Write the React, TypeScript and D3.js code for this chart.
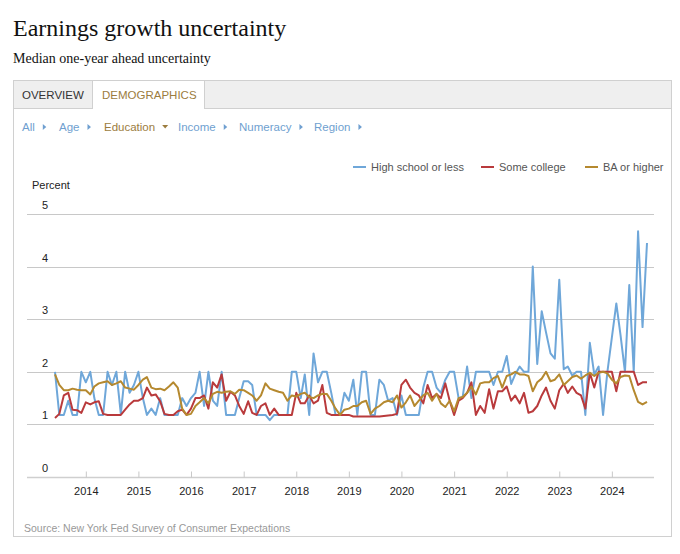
import React, { useRef, useEffect } from 'react';
import * as d3 from 'd3';

// monthly values, Jun 2013 .. Sep 2024
const START = new Date(2013, 5, 1);

const highSchool = [
    2.0, 1.18, 1.18, 1.45, 1.18, 1.18, 2.0,
    1.8, 2.0, 1.5, 1.18, 1.18, 2.0, 1.75, 2.0, 1.2, 2.0, 1.6, 1.75,
    2.0, 1.5, 1.18, 1.3, 1.18, 1.5, 1.18, 1.18, 1.18, 1.18, 1.5, 1.35,
    1.5, 1.6, 2.0, 1.35, 2.0, 1.45, 1.35, 2.0, 1.18, 1.18, 1.18, 1.5,
    1.82, 1.82, 1.75, 1.18, 1.18, 1.18, 1.08, 1.18, 1.18, 1.18, 1.18, 2.0,
    2.0, 1.5, 1.95, 1.18, 2.35, 1.8, 2.0, 2.0, 1.6, 1.18, 1.18, 1.6,
    1.45, 1.85, 1.18, 2.0, 2.0, 1.18, 1.18, 1.85, 1.75, 1.45, 1.5, 1.18,
    1.55, 1.18, 1.18, 1.18, 1.18, 1.7, 2.0, 2.0, 1.7, 1.6, 1.85, 2.0,
    2.0, 1.5, 1.52, 2.1, 1.5, 2.0, 2.0, 2.0, 2.0, 1.75, 2.0, 2.0,
    2.3, 1.77, 1.95, 2.1, 2.0, 2.0, 4.0, 2.15, 3.15, 2.75, 2.35, 2.25,
    3.75, 2.05, 2.1, 1.93, 2.0, 2.0, 1.18, 2.55, 1.95, 2.1, 1.18, 2.0,
    2.65, 3.3, 2.7, 2.0, 3.65, 2.0, 4.67, 2.85, 4.45,
];

const someCollege = [
    1.12, 1.2, 1.55, 1.6, 1.28, 1.27, 1.22,
    1.42, 1.38, 1.42, 1.44, 1.2, 1.18, 1.18, 1.18, 1.18, 1.28, 1.38, 1.45,
    1.45, 1.5, 1.7, 1.55, 1.57, 1.44, 1.2, 1.18, 1.18, 1.25, 1.28, 1.18,
    1.3, 1.5, 1.5, 1.55, 1.3, 1.8, 1.7, 1.95, 1.45, 1.62, 1.55, 1.35,
    1.2, 1.44, 1.22, 1.18, 1.35, 1.4, 1.18, 1.3, 1.18, 1.18, 1.18, 1.18,
    1.6, 1.4, 1.4, 1.55, 1.4, 1.45, 1.75, 1.22, 1.18, 1.18, 1.18, 1.18,
    1.18, 1.15, 1.15, 1.15, 1.15, 1.15, 1.15, 1.15, 1.16, 1.17, 1.18, 1.2,
    1.75, 1.85, 1.7, 1.6, 1.55, 1.4, 1.75, 1.5, 1.58, 1.5, 1.78, 1.45,
    1.18, 1.45, 1.5, 1.6, 1.8, 1.18, 1.35, 1.22, 1.67, 1.3, 1.63, 1.63,
    1.72, 1.45, 1.55, 1.4, 1.6, 1.22, 1.25, 1.35, 1.55, 1.7, 1.45, 1.3,
    1.65, 1.77, 1.6, 1.72, 1.6, 1.55, 1.3, 1.98, 1.7, 2.0, 2.0, 2.0,
    2.0, 1.63, 2.0, 2.0, 2.0, 2.0, 1.75, 1.8, 1.8,
];

const baOrHigher = [
    1.95, 1.75, 1.65, 1.65, 1.68, 1.66, 1.65,
    1.65, 1.57, 1.72, 1.78, 1.8, 1.82, 1.75, 1.78, 1.82, 1.7, 1.68, 1.66,
    1.75, 1.85, 1.9, 1.7, 1.67, 1.68, 1.65, 1.72, 1.8, 1.7, 1.3, 1.18,
    1.2, 1.35, 1.42, 1.5, 1.4, 1.58, 1.62, 1.6, 1.62, 1.63, 1.58, 1.66,
    1.65, 1.6, 1.55, 1.45, 1.55, 1.78, 1.68, 1.65, 1.62, 1.6, 1.45, 1.55,
    1.53, 1.58, 1.6, 1.52, 1.5, 1.55, 1.58, 1.58, 1.45, 1.3, 1.18, 1.28,
    1.3, 1.35, 1.35, 1.42, 1.45, 1.2, 1.3, 1.35, 1.42, 1.45, 1.42, 1.55,
    1.32, 1.42, 1.55, 1.35, 1.45, 1.55, 1.6, 1.45, 1.58, 1.4, 1.33, 1.45,
    1.25, 1.5, 1.52, 1.6, 1.72, 1.57, 1.78, 1.8, 1.8, 1.88, 1.92, 1.7,
    1.92, 1.95, 2.0, 1.95, 1.95, 1.92, 1.63, 1.8, 1.87, 2.0, 1.82, 1.85,
    1.95, 1.75, 1.82, 1.9, 1.93, 1.87, 1.93, 1.98, 1.92, 1.98, 2.0, 1.97,
    1.85, 1.78, 1.9, 1.93, 1.92, 1.65, 1.43, 1.38, 1.43,
];

const seriesNames = ['High school or less', 'Some college', 'BA or higher'];
const seriesColors = ['#6fa7d9', '#b93a3c', '#b5892f'];
const yTicks = [0, 1, 2, 3, 4, 5];
const yearTicks = d3.range(2014, 2025);
const filters = ['All', 'Age', 'Education', 'Income', 'Numeracy', 'Region'];

const SANS = '"Liberation Sans", Arial, sans-serif';
const SERIF = '"Liberation Serif", Georgia, serif';

const App: React.FC = () => {
    const svgRef = useRef<SVGSVGElement | null>(null);

    useEffect(() => {
        if (!svgRef.current) return;
        const svg = d3.select(svgRef.current);
        svg.selectAll('*').remove();

        const allSeries = [highSchool, someCollege, baOrHigher];
        const n = highSchool.length;
        const dates = d3.range(n).map((i) => d3.timeMonth.offset(START, i));

        const x = d3
            .scaleTime()
            .domain([dates[0], dates[n - 1]])
            .range([55, 647]);
        const y = d3.scaleLinear().domain([0, 5]).range([477, 214]);

        // titles
        svg.append('text')
            .attr('x', 13)
            .attr('y', 36)
            .attr('font-family', SERIF)
            .attr('font-size', 24)
            .attr('fill', '#111')
            .text('Earnings growth uncertainty');
        svg.append('text')
            .attr('x', 13)
            .attr('y', 63)
            .attr('font-family', SERIF)
            .attr('font-size', 14)
            .attr('fill', '#111')
            .text('Median one-year ahead uncertainty');

        // panel + tabs
        svg.append('rect')
            .attr('x', 13.5)
            .attr('y', 80.5)
            .attr('width', 658)
            .attr('height', 456)
            .attr('fill', '#fff')
            .attr('stroke', '#d0d0d0');
        svg.append('rect')
            .attr('x', 14)
            .attr('y', 81)
            .attr('width', 657)
            .attr('height', 27)
            .attr('fill', '#efefef');
        svg.append('line')
            .attr('x1', 14)
            .attr('x2', 671)
            .attr('y1', 108.5)
            .attr('y2', 108.5)
            .attr('stroke', '#d0d0d0');
        svg.append('rect')
            .attr('x', 92.5)
            .attr('y', 80.5)
            .attr('width', 112)
            .attr('height', 28)
            .attr('fill', '#fff')
            .attr('stroke', '#d0d0d0');
        svg.append('rect')
            .attr('x', 93)
            .attr('y', 107)
            .attr('width', 111)
            .attr('height', 3)
            .attr('fill', '#fff');
        svg.append('text')
            .attr('x', 22)
            .attr('y', 99)
            .attr('font-family', SANS)
            .attr('font-size', 11.5)
            .attr('fill', '#333')
            .text('OVERVIEW');
        svg.append('text')
            .attr('x', 102)
            .attr('y', 99)
            .attr('font-family', SANS)
            .attr('font-size', 11.5)
            .attr('fill', '#9c7c3e')
            .text('DEMOGRAPHICS');

        // filter row
        const filterX = [22, 59, 104, 178, 239, 314];
        filters.forEach((f, i) => {
            const active = f === 'Education';
            const g = svg.append('g').attr('transform', `translate(${filterX[i]},131)`);
            const t = g
                .append('text')
                .attr('font-family', SANS)
                .attr('font-size', 11.5)
                .attr('fill', active ? '#9c7c3e' : '#6f9fd0')
                .text(f);
            const w = (t.node() as SVGTextElement).getComputedTextLength();
            const ax = w + 8;
            g.append('path')
                .attr(
                    'd',
                    active
                        ? `M${ax - 1},-6 L${ax + 5},-6 L${ax + 2},-2.5 Z`
                        : `M${ax},-7 L${ax + 3.5},-4 L${ax},-1 Z`,
                )
                .attr('fill', active ? '#9c7c3e' : '#6f9fd0');
        });

        // legend
        const legendX = [353, 481, 585];
        seriesNames.forEach((name, i) => {
            svg.append('line')
                .attr('x1', legendX[i])
                .attr('x2', legendX[i] + 13)
                .attr('y1', 167)
                .attr('y2', 167)
                .attr('stroke', seriesColors[i])
                .attr('stroke-width', 2);
            svg.append('text')
                .attr('x', legendX[i] + 18)
                .attr('y', 171)
                .attr('font-family', SANS)
                .attr('font-size', 11)
                .attr('fill', '#555')
                .text(name);
        });

        svg.append('text')
            .attr('x', 32)
            .attr('y', 189)
            .attr('font-family', SANS)
            .attr('font-size', 11)
            .attr('fill', '#222')
            .text('Percent');

        // y grid
        const grid = svg.append('g');
        yTicks.forEach((v) => {
            grid.append('line')
                .attr('x1', 27)
                .attr('x2', 654)
                .attr('y1', Math.round(y(v)) + 0.5)
                .attr('y2', Math.round(y(v)) + 0.5)
                .attr('stroke', v === 0 ? '#cfcfcf' : '#c8c8c8')
                .attr('stroke-width', v === 0 ? 1.5 : 1);
            grid.append('text')
                .attr('x', 48)
                .attr('y', y(v) - 5)
                .attr('text-anchor', 'end')
                .attr('font-family', SANS)
                .attr('font-size', 11)
                .attr('fill', '#222')
                .text(v);
        });

        // x axis
        const xAxis = d3
            .axisBottom(x)
            .tickValues(yearTicks.map((yr) => new Date(yr, 0, 1)))
            .tickFormat((d) => d3.timeFormat('%Y')(d as Date))
            .tickSize(-6)
            .tickSizeOuter(0)
            .tickPadding(10);
        const ax = svg.append('g').attr('transform', `translate(0,${Math.round(y(0)) + 0.5})`).call(xAxis);
        ax.select('.domain').remove();
        ax.selectAll('line').attr('stroke', '#c8c8c8');
        ax.selectAll('text')
            .attr('font-family', SANS)
            .attr('font-size', 11)
            .attr('fill', '#222');

        // series
        const line = d3
            .line<number>()
            .x((_, i) => x(dates[i]))
            .y((d) => y(d));
        allSeries.forEach((s, i) => {
            svg.append('path')
                .datum(s)
                .attr('d', line)
                .attr('fill', 'none')
                .attr('stroke', seriesColors[i])
                .attr('stroke-width', 2)
                .attr('stroke-linejoin', 'round');
        });

        svg.append('text')
            .attr('x', 24)
            .attr('y', 532)
            .attr('font-family', SANS)
            .attr('font-size', 10.5)
            .attr('fill', '#999')
            .text('Source: New York Fed Survey of Consumer Expectations');
    }, []);

    return (
        <div style={{ position: 'absolute', left: 0, top: 0, width: 680, height: 554, background: '#fff' }}>
            <svg ref={svgRef} width={680} height={554} viewBox="0 0 680 554"></svg>
        </div>
    );
};

export default App;
